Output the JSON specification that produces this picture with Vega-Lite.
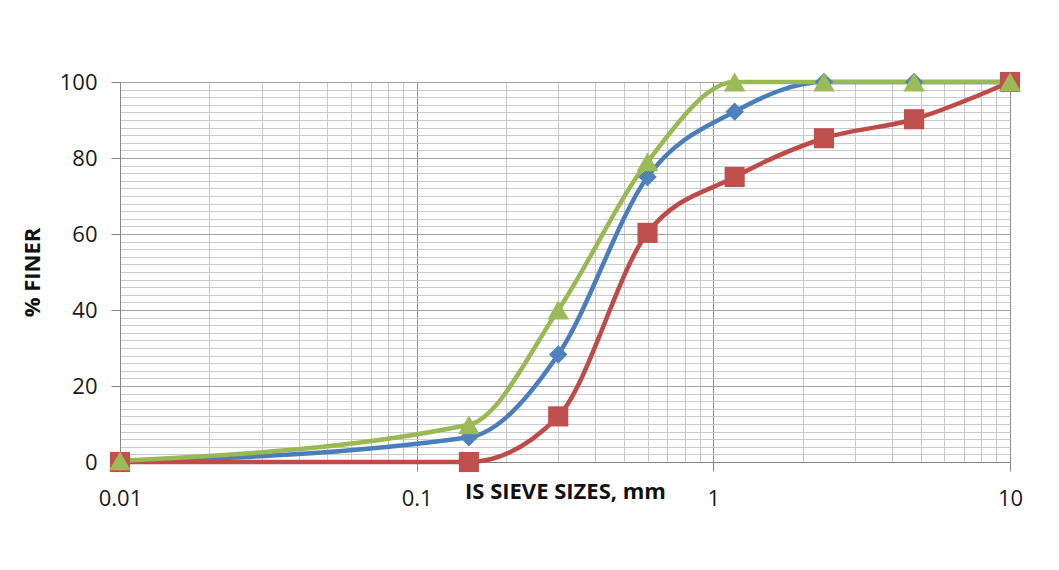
{
  "$schema": "https://vega.github.io/schema/vega-lite/v6.json",
  "width": 890,
  "height": 380,
  "autosize": {"type": "none"},
  "padding": {"left": 120, "top": 82, "right": 49, "bottom": 108},
  "background": "white",
  "config": {
    "view": {"stroke": null},
    "font": "Open Sans",
    "axis": {
      "labelFont": "Open Sans",
      "labelFontSize": 22,
      "labelColor": "#1a1a1a",
      "titleFont": "Open Sans",
      "titleFontSize": 22,
      "titleFontWeight": "bold",
      "titleColor": "#111111",
      "domainColor": "#868686",
      "domainWidth": 1,
      "gridWidth": 1,
      "tickWidth": 1,
      "tickColor": "#868686",
      "tickSize": 9
    }
  },
  "data": {
    "values": [
      {"series": "A", "size": 0.01, "finer": 0},
      {"series": "A", "size": 0.15, "finer": 6.5},
      {"series": "A", "size": 0.3, "finer": 28.3},
      {"series": "A", "size": 0.6, "finer": 75},
      {"series": "A", "size": 1.18, "finer": 92.2},
      {"series": "A", "size": 2.36, "finer": 100},
      {"series": "A", "size": 4.75, "finer": 100},
      {"series": "A", "size": 10, "finer": 100},
      {"series": "B", "size": 0.01, "finer": 0},
      {"series": "B", "size": 0.15, "finer": 0},
      {"series": "B", "size": 0.3, "finer": 12},
      {"series": "B", "size": 0.6, "finer": 60.3},
      {"series": "B", "size": 1.18, "finer": 75},
      {"series": "B", "size": 2.36, "finer": 85.2},
      {"series": "B", "size": 4.75, "finer": 90.2},
      {"series": "B", "size": 10, "finer": 100},
      {"series": "C", "size": 0.01, "finer": 0.3},
      {"series": "C", "size": 0.15, "finer": 9.8},
      {"series": "C", "size": 0.3, "finer": 40},
      {"series": "C", "size": 0.6, "finer": 79},
      {"series": "C", "size": 1.18, "finer": 100},
      {"series": "C", "size": 2.36, "finer": 100},
      {"series": "C", "size": 4.75, "finer": 100},
      {"series": "C", "size": 10, "finer": 100}
    ]
  },
  "encoding": {
    "x": {
      "field": "size",
      "type": "quantitative",
      "scale": {"type": "log", "domain": [0.01, 10], "nice": false},
      "axis": {
        "title": "IS SIEVE SIZES, mm",
        "values": [0.01, 0.02, 0.03, 0.04, 0.05, 0.06, 0.07, 0.08, 0.09, 0.1, 0.2, 0.3, 0.4, 0.5, 0.6, 0.7, 0.8, 0.9, 1, 2, 3, 4, 5, 6, 7, 8, 9, 10],
        "format": "~g",
        "labelExpr": "indexof([0.01, 0.1, 1, 10], datum.value) >= 0 ? datum.label : ''",
        "labelPadding": 17,
        "labelBaseline": "top",
        "labelFlush": false,
        "labelOverlap": false,
        "grid": true,
        "gridColor": {"condition": {"test": "indexof([0.01, 0.1, 1, 10], datum.value) >= 0", "value": "#8c8c8c"}, "value": "#c8c8c8"},
        "tickOpacity": {"condition": {"test": "indexof([0.01, 0.1, 1, 10], datum.value) >= 0", "value": 1}, "value": 0},
        "titleY": 36,
        "titleBaseline": "alphabetic"
      }
    },
    "y": {
      "field": "finer",
      "type": "quantitative",
      "scale": {"domain": [0, 100], "nice": false},
      "axis": {
        "title": "% FINER",
        "values": [0, 2, 4, 6, 8, 10, 12, 14, 16, 18, 20, 22, 24, 26, 28, 30, 32, 34, 36, 38, 40, 42, 44, 46, 48, 50, 52, 54, 56, 58, 60, 62, 64, 66, 68, 70, 72, 74, 76, 78, 80, 82, 84, 86, 88, 90, 92, 94, 96, 98, 100],
        "labelExpr": "datum.value % 20 === 0 ? datum.label : ''",
        "labelPadding": 14,
        "labelOverlap": false,
        "labelFlush": false,
        "grid": true,
        "gridColor": {"condition": {"test": "datum.value % 20 === 0", "value": "#a0a0a0"}, "value": "#cacaca"},
        "tickOpacity": {"condition": {"test": "datum.value % 20 === 0", "value": 1}, "value": 0},
        "titleX": -88,
        "titleBaseline": "middle"
      }
    },
    "color": {
      "field": "series",
      "type": "nominal",
      "scale": {"domain": ["A", "B", "C"], "range": ["#4A7EBB", "#BE4B48", "#98B954"]},
      "legend": null
    }
  },
  "layer": [
    {
      "mark": {"type": "line", "interpolate": "monotone", "strokeWidth": 4.5, "clip": false}
    },
    {
      "mark": {"type": "point", "filled": true, "opacity": 1, "clip": false},
      "encoding": {
        "shape": {
          "field": "series",
          "type": "nominal",
          "scale": {"domain": ["A", "B", "C"], "range": ["diamond", "square", "triangle-up"]},
          "legend": null
        },
        "size": {
          "field": "series",
          "type": "ordinal",
          "scale": {"domain": ["A", "B", "C"], "range": [340, 470, 540]},
          "legend": null
        },
        "fill": {
          "field": "series",
          "type": "nominal",
          "scale": {"domain": ["A", "B", "C"], "range": ["#4F81BD", "#C0504D", "#9BBB59"]},
          "legend": null
        }
      }
    }
  ]
}
